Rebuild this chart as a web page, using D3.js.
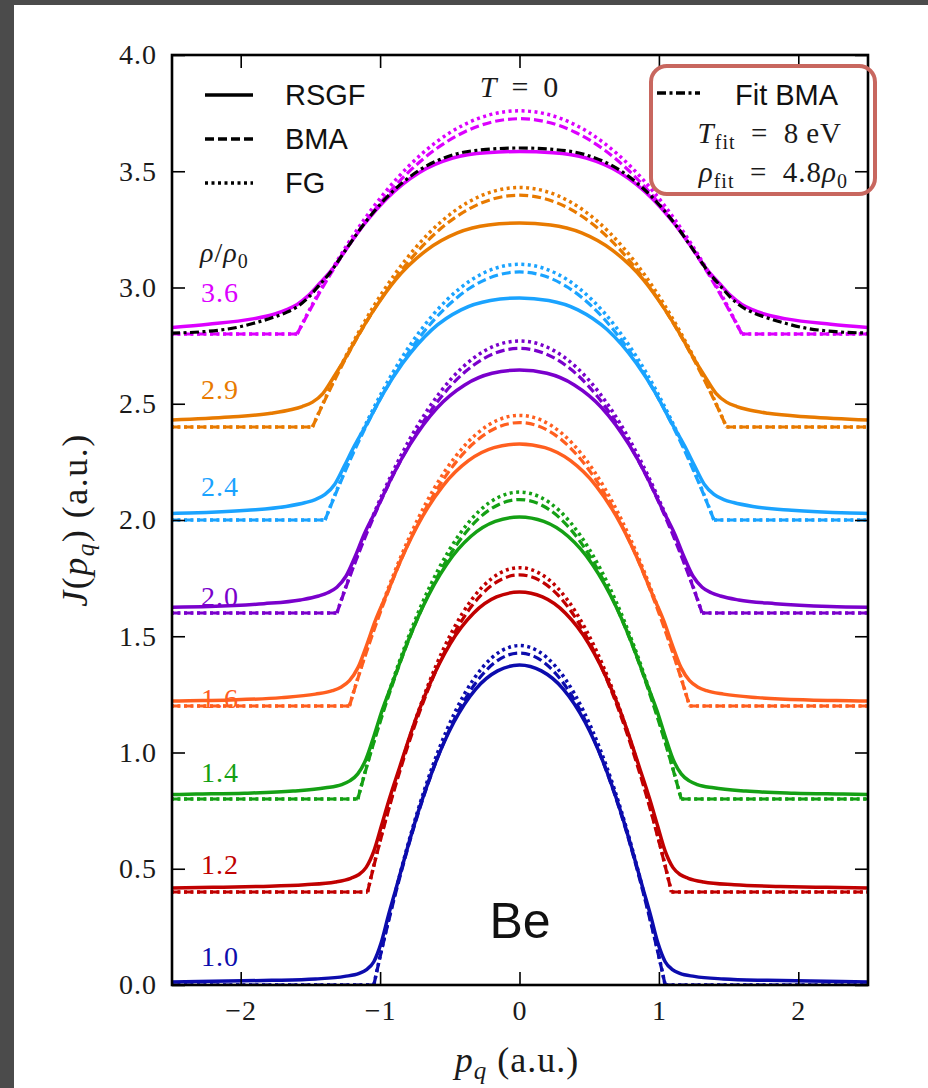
<!DOCTYPE html>
<html>
<head>
<meta charset="utf-8">
<script src="https://cdn.jsdelivr.net/npm/d3@7"></script>
<style>
  html, body { margin: 0; padding: 0; background: #fff; }
  svg { display: block; }
</style>
</head>
<body>
<svg id="chart" width="928" height="1088"></svg>
<script>
// ---- data -------------------------------------------------------------
// Compton profiles J(p_q) of Be at T = 0 for several compressions rho/rho0.
// Each profile is symmetric in p_q, so only the p_q >= 0 half is listed as
// [p_q, J] pairs; each curve is shifted up by its offset for clarity.
const densityLabels = ["1.0", "1.2", "1.4", "1.6", "2.0", "2.4", "2.9", "3.6"];
const offsets = [0.0, 0.4, 0.8, 1.2, 1.6, 2.0, 2.4, 2.8];
const pqTicks = [-2, -1, 0, 1, 2];
const jTicks = [0.0, 0.5, 1.0, 1.5, 2.0, 2.5, 3.0, 3.5, 4.0];

// RSGF (solid)
const rsgf10 = [[0,1.376],[0.157,1.351],[0.314,1.273],[0.47,1.131],[0.627,0.918],[0.732,0.735],[0.815,0.566],[0.888,0.41],[0.94,0.30],[0.993,0.18],[1.045,0.10],[1.097,0.066],[1.15,0.05],[1.254,0.037],[1.463,0.026],[1.777,0.02],[2.09,0.017],[2.5,0.013]];
const rsgf12 = [[0,1.29],[0.165,1.269],[0.33,1.199],[0.495,1.07],[0.66,0.872],[0.77,0.70],[0.858,0.54],[0.935,0.398],[0.99,0.286],[1.045,0.176],[1.10,0.106],[1.155,0.074],[1.21,0.059],[1.32,0.043],[1.54,0.031],[1.87,0.024],[2.2,0.02],[2.5,0.017]];
const rsgf14 = [[0,1.213],[0.174,1.194],[0.348,1.13],[0.522,1.01],[0.696,0.824],[0.812,0.661],[0.905,0.51],[0.986,0.38],[1.044,0.271],[1.102,0.17],[1.16,0.108],[1.218,0.078],[1.276,0.062],[1.392,0.048],[1.624,0.034],[1.972,0.025],[2.32,0.021],[2.5,0.019]];
const rsgf16 = [[0,1.127],[0.183,1.111],[0.366,1.055],[0.549,0.947],[0.732,0.776],[0.854,0.624],[0.952,0.482],[1.037,0.363],[1.098,0.259],[1.159,0.165],[1.22,0.109],[1.281,0.081],[1.342,0.066],[1.464,0.051],[1.708,0.036],[2.074,0.026],[2.44,0.022],[2.5,0.021]];
const rsgf20 = [[0,1.045],[0.197,1.031],[0.393,0.981],[0.59,0.883],[0.786,0.724],[0.917,0.583],[1.022,0.45],[1.114,0.339],[1.179,0.243],[1.245,0.158],[1.31,0.111],[1.376,0.087],[1.441,0.073],[1.572,0.056],[1.834,0.04],[2.227,0.028],[2.5,0.025]];
const rsgf24 = [[0,0.955],[0.209,0.944],[0.419,0.904],[0.628,0.819],[0.837,0.675],[0.977,0.545],[1.088,0.421],[1.186,0.317],[1.256,0.233],[1.325,0.154],[1.395,0.11],[1.465,0.088],[1.535,0.075],[1.674,0.058],[1.953,0.042],[2.37,0.03],[2.5,0.028]];
const rsgf29 = [[0,0.877],[0.223,0.869],[0.446,0.835],[0.668,0.76],[0.891,0.632],[1.04,0.508],[1.158,0.393],[1.262,0.283],[1.337,0.211],[1.411,0.144],[1.485,0.107],[1.559,0.088],[1.634,0.075],[1.782,0.059],[2.079,0.043],[2.5,0.03]];
const rsgf36 = [[0,0.785],[0.239,0.78],[0.479,0.757],[0.718,0.695],[0.957,0.58],[1.117,0.47],[1.244,0.365],[1.356,0.269],[1.436,0.216],[1.515,0.165],[1.595,0.127],[1.675,0.104],[1.755,0.086],[1.914,0.065],[2.233,0.042],[2.5,0.028]];

// BMA (dashed): the first zero marks the Fermi edge
const bma10 = [[0,1.428],[0.261,1.339],[0.523,1.071],[0.732,0.728],[0.888,0.396],[0.993,0.139],[1.045,0],[2.5,0]];
const bma12 = [[0,1.364],[0.273,1.279],[0.545,1.023],[0.763,0.696],[0.927,0.379],[1.036,0.133],[1.09,0],[2.5,0]];
const bma14 = [[0,1.288],[0.29,1.208],[0.58,0.966],[0.812,0.657],[0.986,0.357],[1.102,0.126],[1.16,0],[2.5,0]];
const bma16 = [[0,1.219],[0.305,1.143],[0.61,0.914],[0.854,0.622],[1.037,0.338],[1.159,0.119],[1.22,0],[2.5,0]];
const bma20 = [[0,1.138],[0.328,1.067],[0.655,0.854],[0.917,0.58],[1.114,0.316],[1.245,0.111],[1.31,0],[2.5,0]];
const bma24 = [[0,1.067],[0.349,1.0],[0.698,0.8],[0.977,0.544],[1.186,0.296],[1.325,0.104],[1.395,0],[2.5,0]];
const bma29 = [[0,0.997],[0.371,0.935],[0.743,0.748],[1.04,0.508],[1.262,0.277],[1.411,0.097],[1.485,0],[2.5,0]];
const bma36 = [[0,0.926],[0.399,0.868],[0.798,0.695],[1.117,0.472],[1.356,0.257],[1.515,0.09],[1.595,0],[2.5,0]];

// FG (dotted)
const fg10 = [[0,1.46],[0.261,1.369],[0.523,1.095],[0.732,0.745],[0.888,0.405],[0.993,0.142],[1.045,0],[2.5,0]];
const fg12 = [[0,1.395],[0.273,1.308],[0.545,1.046],[0.763,0.711],[0.927,0.387],[1.036,0.136],[1.09,0],[2.5,0]];
const fg14 = [[0,1.32],[0.29,1.238],[0.58,0.99],[0.812,0.673],[0.986,0.366],[1.102,0.129],[1.16,0],[2.5,0]];
const fg16 = [[0,1.25],[0.305,1.172],[0.61,0.938],[0.854,0.638],[1.037,0.347],[1.159,0.122],[1.22,0],[2.5,0]];
const fg20 = [[0,1.17],[0.328,1.097],[0.655,0.878],[0.917,0.597],[1.114,0.325],[1.245,0.114],[1.31,0],[2.5,0]];
const fg24 = [[0,1.10],[0.349,1.031],[0.698,0.825],[0.977,0.561],[1.186,0.305],[1.325,0.107],[1.395,0],[2.5,0]];
const fg29 = [[0,1.03],[0.371,0.966],[0.743,0.773],[1.04,0.525],[1.262,0.286],[1.411,0.1],[1.485,0],[2.5,0]];
const fg36 = [[0,0.96],[0.399,0.9],[0.798,0.72],[1.117,0.49],[1.356,0.266],[1.515,0.094],[1.595,0],[2.5,0]];

// BMA fit to the rho/rho0 = 3.6 RSGF profile (dash-dot)
const fitBma36 = [[0,0.80],[0.239,0.794],[0.479,0.77],[0.718,0.705],[0.957,0.585],[1.117,0.472],[1.244,0.364],[1.356,0.266],[1.436,0.21],[1.515,0.157],[1.595,0.117],[1.675,0.092],[1.755,0.074],[1.914,0.045],[2.03,0.028],[2.27,0.01],[2.5,0.004]];

const rsgfSets = [rsgf10, rsgf12, rsgf14, rsgf16, rsgf20, rsgf24, rsgf29, rsgf36];
const bmaSets  = [bma10, bma12, bma14, bma16, bma20, bma24, bma29, bma36];
const fgSets   = [fg10, fg12, fg14, fg16, fg20, fg24, fg29, fg36];

// ---- styling ------------------------------------------------------------
const palette = ["#0c0cad", "#c00000", "#14a014", "#ff5f1f", "#7a00cc", "#1aa3ff", "#e87a00", "#dc00ff"];
const serif = "'Liberation Serif', 'DejaVu Serif', serif";
const sans = "'Liberation Sans', Arial, sans-serif";

const W = 928, H = 1088;
const plot = { left: 172, right: 868, top: 55, bottom: 985 };

const svg = d3.select("#chart");

// dark frame of the page behind the figure
svg.append("rect").attr("x", 0).attr("y", 0).attr("width", W).attr("height", H).attr("fill", "#fff");
svg.append("rect").attr("x", 0).attr("y", 0).attr("width", 14).attr("height", H).attr("fill", "#4b4b4b");
svg.append("rect").attr("x", 0).attr("y", 0).attr("width", W).attr("height", 5).attr("fill", "#4b4b4b");

const x = d3.scaleLinear().domain([-2.5, 2.5]).range([171, 868]);
const y = d3.scaleLinear().domain([0, 4]).range([plot.bottom, plot.top]);

svg.append("clipPath").attr("id", "plot-clip")
  .append("rect")
  .attr("x", plot.left).attr("y", plot.top)
  .attr("width", plot.right - plot.left).attr("height", plot.bottom - plot.top);

// ---- helpers ------------------------------------------------------------
const mirror = half => half.slice(1).map(([p, j]) => [-p, j]).reverse().concat(half);

function lineFor(offset, curve) {
  return d3.line()
    .x(d => x(d[0]))
    .y(d => y(d[1] + offset))
    .curve(curve);
}

const curves = svg.append("g").attr("clip-path", "url(#plot-clip)");

// smooth profile over the whole range
function drawSmooth(half, offset, color, width, dash) {
  curves.append("path")
    .attr("d", lineFor(offset, d3.curveMonotoneX)(mirror(half)))
    .attr("fill", "none")
    .attr("stroke", color)
    .attr("stroke-width", width)
    .attr("stroke-dasharray", dash)
    .attr("stroke-linejoin", "round");
}

// profile with a sharp Fermi edge: smooth dome, flat zero outside the edge
function drawEdged(half, offset, color, width, dash) {
  const e = half.findIndex(d => d[1] === 0);
  const dome = half.slice(0, e + 1);
  const tail = half.slice(e);
  const g = curves.append("g")
    .attr("fill", "none")
    .attr("stroke", color)
    .attr("stroke-width", width)
    .attr("stroke-dasharray", dash);
  g.append("path").attr("d", lineFor(offset, d3.curveMonotoneX)(mirror(dome)));
  g.append("path").attr("d", lineFor(offset, d3.curveLinear)(tail));
  g.append("path").attr("d", lineFor(offset, d3.curveLinear)(tail.map(([p, j]) => [-p, j]).reverse()));
}

const dashStyle = "9,4";
const dotStyle = "3,3.5";
const dashDotStyle = "9,3.5,3,3.5";

densityLabels.forEach((lab, i) => {
  const off = offsets[i], c = palette[i];
  drawSmooth(rsgfSets[i], off, c, 3.5, null);
  drawEdged(bmaSets[i], off, c, 3.2, dashStyle);
  drawEdged(fgSets[i], off, c, 3.5, dotStyle);
});
drawSmooth(fitBma36, offsets[7], "#000", 3.2, dashDotStyle);

// ---- axes ---------------------------------------------------------------
const tickLen = 13;
const axB = svg.append("g").attr("transform", `translate(0,${plot.bottom})`)
  .call(d3.axisBottom(x).tickValues(pqTicks).tickFormat(d3.format("d"))
    .tickSizeInner(-tickLen).tickSizeOuter(0).tickPadding(15));
const axT = svg.append("g").attr("transform", `translate(0,${plot.top})`)
  .call(d3.axisTop(x).tickValues(pqTicks).tickFormat("")
    .tickSizeInner(-tickLen).tickSizeOuter(0));
const axL = svg.append("g").attr("transform", `translate(${plot.left},0)`)
  .call(d3.axisLeft(y).tickValues(jTicks).tickFormat(d3.format(".1f"))
    .tickSizeInner(-tickLen).tickSizeOuter(0).tickPadding(15));
const axR = svg.append("g").attr("transform", `translate(${plot.right},0)`)
  .call(d3.axisRight(y).tickValues(jTicks).tickFormat("")
    .tickSizeInner(-tickLen).tickSizeOuter(0));

[axB, axT, axL, axR].forEach(a => {
  a.select(".domain").remove();
  a.selectAll(".tick line").attr("stroke", "#000").attr("stroke-width", 1.6);
  a.selectAll(".tick text")
    .attr("fill", "#1a1a1a")
    .style("font-family", serif)
    .style("font-size", "28px")
    .style("letter-spacing", "1px");
});

// frame
svg.append("rect")
  .attr("x", plot.left).attr("y", plot.top)
  .attr("width", plot.right - plot.left).attr("height", plot.bottom - plot.top)
  .attr("fill", "none").attr("stroke", "#000").attr("stroke-width", 2.6);

// axis titles
const xt = svg.append("text")
  .attr("x", 517).attr("y", 1072).attr("text-anchor", "middle")
  .style("font-family", serif).style("font-size", "36px").style("letter-spacing", "1px")
  .attr("fill", "#1a1a1a");
xt.append("tspan").attr("font-style", "italic").text("p");
xt.append("tspan").attr("font-style", "italic").attr("font-size", "25px").attr("dy", 7).text("q");
xt.append("tspan").attr("dy", -7).text("\u00a0(a.u.)");

const yt = svg.append("text")
  .attr("transform", "translate(87,520) rotate(-90)").attr("text-anchor", "middle")
  .style("font-family", serif).style("font-size", "36px").style("letter-spacing", "1.5px")
  .attr("fill", "#1a1a1a");
yt.append("tspan").attr("font-style", "italic").text("J");
yt.append("tspan").text("(");
yt.append("tspan").attr("font-style", "italic").text("p");
yt.append("tspan").attr("font-style", "italic").attr("font-size", "25px").attr("dy", 7).text("q");
yt.append("tspan").attr("dy", -7).text(")\u00a0(a.u.)");

// T = 0 title inside the axes
const tt = svg.append("text")
  .attr("x", 519).attr("y", 97).attr("text-anchor", "middle")
  .style("font-family", serif).style("font-size", "30px").attr("fill", "#1a1a1a");
tt.append("tspan").attr("font-style", "italic").text("T");
tt.append("tspan").text("\u2002=\u20020");

// ---- legend: line styles -------------------------------------------------
const legendRows = [
  { name: "RSGF", dash: null },
  { name: "BMA", dash: dashStyle },
  { name: "FG", dash: dotStyle }
];
legendRows.forEach((r, i) => {
  const yy = 95 + i * 44;
  svg.append("line")
    .attr("x1", 205).attr("x2", 253).attr("y1", yy).attr("y2", yy)
    .attr("stroke", "#000").attr("stroke-width", 3.5)
    .attr("stroke-dasharray", r.dash);
  svg.append("text")
    .attr("x", 285).attr("y", yy + 10)
    .style("font-family", sans).style("font-size", "29px").attr("fill", "#111")
    .text(r.name);
});

// ---- fit box ---------------------------------------------------------------
svg.append("rect")
  .attr("x", 651).attr("y", 66).attr("width", 224).attr("height", 128)
  .attr("rx", 16).attr("ry", 16)
  .attr("fill", "none").attr("stroke", "#c8675f").attr("stroke-width", 4);
svg.append("line")
  .attr("x1", 657).attr("x2", 700).attr("y1", 93).attr("y2", 93)
  .attr("stroke", "#000").attr("stroke-width", 3.5).attr("stroke-dasharray", dashDotStyle);
svg.append("text")
  .attr("x", 735).attr("y", 105)
  .style("font-family", sans).style("font-size", "29px").attr("fill", "#111")
  .text("Fit BMA");

const tf = svg.append("text")
  .attr("x", 842).attr("y", 143).attr("text-anchor", "end")
  .style("font-family", serif).style("font-size", "29px").style("letter-spacing", "1px")
  .attr("fill", "#1a1a1a");
tf.append("tspan").attr("font-style", "italic").text("T");
tf.append("tspan").attr("font-size", "20px").attr("dy", 6).text("fit");
tf.append("tspan").attr("dy", -6).text("\u2002=\u20028\u2009eV");

const rf = svg.append("text")
  .attr("x", 848).attr("y", 182).attr("text-anchor", "end")
  .style("font-family", serif).style("font-size", "29px").style("letter-spacing", "1px")
  .attr("fill", "#1a1a1a");
rf.append("tspan").attr("font-style", "italic").text("ρ");
rf.append("tspan").attr("font-size", "20px").attr("dy", 6).text("fit");
rf.append("tspan").attr("dy", -6).text("\u2002=\u20024.8");
rf.append("tspan").attr("font-style", "italic").text("ρ");
rf.append("tspan").attr("font-size", "20px").attr("dy", 6).text("0");

// ---- density labels ---------------------------------------------------------
const rl = svg.append("text")
  .attr("x", 200).attr("y", 262)
  .style("font-family", serif).style("font-size", "28px").style("letter-spacing", "1px")
  .attr("fill", "#1a1a1a");
rl.append("tspan").attr("font-style", "italic").text("ρ");
rl.append("tspan").text("/");
rl.append("tspan").attr("font-style", "italic").text("ρ");
rl.append("tspan").attr("font-size", "20px").attr("dy", 6).text("0");

const labelBaselines = [966, 874, 782, 708, 606, 496, 399, 302];
densityLabels.forEach((lab, i) => {
  svg.append("text")
    .attr("x", 201).attr("y", labelBaselines[i])
    .style("font-family", serif).style("font-size", "28px").style("letter-spacing", "1px")
    .attr("fill", palette[i])
    .text(lab);
});

// element label
svg.append("text")
  .attr("x", 520).attr("y", 938).attr("text-anchor", "middle")
  .style("font-family", sans).style("font-size", "50px").attr("fill", "#111")
  .text("Be");
</script>
</body>
</html>
